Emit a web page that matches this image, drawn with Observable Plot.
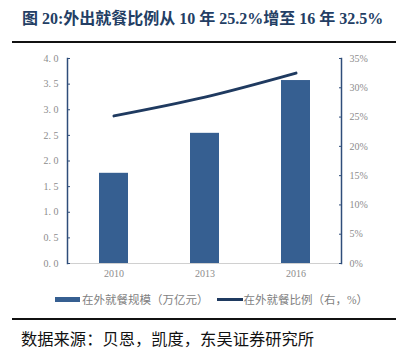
<!DOCTYPE html>
<html>
<head>
<meta charset="utf-8">
<script src="https://cdn.jsdelivr.net/npm/d3@7"></script>
<script src="https://cdn.jsdelivr.net/npm/@observablehq/plot@0.6"></script>
<style>
  html, body { margin: 0; padding: 0; background: #fff; }
  #wrap { position: relative; width: 397px; height: 355px; overflow: hidden; }
  .serif { font-family: "Liberation Serif", "Noto Sans CJK SC", serif; }
  #title { position: absolute; left: 22px; top: 5px; font-size: 16px; font-weight: bold; color: #233e64; white-space: nowrap; }
  .rule { position: absolute; left: 12px; width: 384px; height: 2px; background: #111; }
  #chart { position: absolute; left: 0; top: 48px; }
  #legend { position: absolute; top: 291px; left: 55px; font-size: 11.5px; color: #7f7f7f; white-space: nowrap; }
  #legend span { display: inline-block; vertical-align: middle; }
  #caption { position: absolute; left: 21px; top: 326px; font-size: 16.3px; color: #111; white-space: nowrap; }
</style>
</head>
<body>
<div id="wrap">
  <div id="title" class="serif">图 20:外出就餐比例从 10 年 25.2%增至 16 年 32.5%</div>
  <div class="rule" style="top:41px"></div>
  <div id="chart"></div>
  <div id="legend" class="serif"></div>
  <div class="rule" style="top:318px"></div>
  <div id="caption" class="serif">数据来源：贝恩，凯度，东吴证券研究所</div>
</div>
<script>
const years = ["2010", "2013", "2016"];
const scaleValues = [1.76, 2.54, 3.57];      // 在外就餐规模（万亿元）
const ratioValues = [25.2, 28.4, 32.5];      // 在外就餐比例（%）
const leftTicks = [0, 0.5, 1, 1.5, 2, 2.5, 3, 3.5, 4];
const rightTicks = [0, 5, 10, 15, 20, 25, 30, 35];
const seriesNames = ["在外就餐规模（万亿元）", "在外就餐比例（右，%）"];

const barColor = "#365f91";
const lineColor = "#1f3a60";
const axisColor = "#2f4d7a";
const labelColor = "#8c8c8c";

const leftMax = 4, rightMax = 35;
const toLeft = v => v / rightMax * leftMax;

const bars = years.map((y, i) => ({year: y, value: scaleValues[i]}));
const line = years.map((y, i) => ({year: y, value: toLeft(ratioValues[i])}));

const chart = Plot.plot({
  width: 397,
  height: 240,
  marginTop: 10,
  marginBottom: 25,
  marginLeft: 67,
  marginRight: 56,
  style: {fontFamily: "'Liberation Serif', 'Noto Sans CJK SC', serif", fontSize: "10px", color: labelColor, background: "transparent"},
  x: {type: "band", domain: years, padding: 0},
  y: {domain: [0, leftMax]},
  marks: [
    Plot.barY(bars, {x: "year", y: "value", fill: barColor, insetLeft: 31, insetRight: 31}),
    Plot.ruleY([0], {stroke: "#d0d0d0", strokeWidth: 1}),
    Plot.line(line, {x: "year", y: "value", stroke: lineColor, strokeWidth: 3, curve: "catmull-rom"}),
    Plot.axisX({ticks: years, tickSize: 0, tickPadding: 6, label: null, fill: labelColor}),
    Plot.axisY({anchor: "left", ticks: leftTicks, tickSize: -3, stroke: axisColor, tickPadding: 12,
      tickFormat: d => d.toFixed(1).replace(".", ". "), label: null, fill: labelColor}),
    Plot.axisY({anchor: "right", ticks: rightTicks.map(toLeft), tickSize: -3, stroke: axisColor, tickPadding: 11,
      tickFormat: d => Math.round(d / leftMax * rightMax) + "%", label: null, fill: labelColor}),
    Plot.frame({anchor: "left", stroke: axisColor, strokeWidth: 1.5}),
    Plot.frame({anchor: "right", stroke: axisColor, strokeWidth: 1.5})
  ]
});
document.getElementById("chart").appendChild(chart);

const legend = document.getElementById("legend");
legend.innerHTML =
  `<span style="width:25px;height:5px;background:${barColor}"></span>` +
  `<span style="margin-left:2px">${seriesNames[0]}</span>` +
  `<span style="width:26px;height:3px;background:${lineColor};margin-left:8px"></span>` +
  `<span style="margin-left:1px">${seriesNames[1]}</span>`;
</script>
</body>
</html>
